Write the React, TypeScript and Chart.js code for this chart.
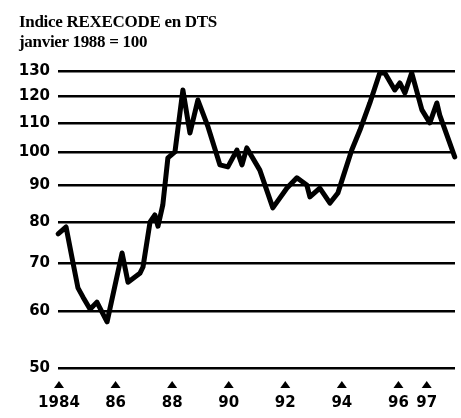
import React, { useEffect, useRef } from "react";
import { Chart, registerables } from "chart.js";

Chart.register(...registerables);

const titleLines = ["Indice REXECODE en DTS", "janvier 1988 = 100"];

const years = [
  1983.97, 1984.25, 1984.49, 1984.67, 1984.85, 1985.1, 1985.34, 1985.7, 1986.23, 1986.44,
  1986.86, 1986.97, 1987.22, 1987.39, 1987.5, 1987.67, 1987.85, 1988.1, 1988.38, 1988.63,
  1988.91, 1989.27, 1989.69, 1989.97, 1990.29, 1990.47, 1990.64, 1991.1, 1991.56, 1992.06,
  1992.41, 1992.76, 1992.87, 1993.22, 1993.58, 1993.86, 1994.04, 1994.35, 1994.64, 1994.99,
  1995.34, 1995.52, 1995.87, 1996.05, 1996.23, 1996.47, 1996.83, 1997.11, 1997.36, 1997.46,
  1997.99,
];

const values = [
  77.0, 78.7, 70.3, 64.7, 62.8, 60.4, 61.8, 58.0, 72.4, 65.9,
  67.8, 69.2, 80.0, 81.8, 78.9, 84.5, 98.3, 100.2, 122.3, 106.5,
  118.4, 108.6, 96.1, 95.5, 100.8, 96.1, 101.5, 94.5, 83.7, 89.2,
  92.2, 90.1, 86.7, 89.2, 85.0, 87.8, 92.4, 100.8, 107.5, 117.3,
  129.2, 129.2, 122.3, 125.1, 121.1, 129.2, 114.7, 110.0, 117.3, 112.8,
  98.6,
];

const yTicks = [50, 60, 70, 80, 90, 100, 110, 120, 130];
const xTicks = [1984, 1986, 1988, 1990, 1992, 1994, 1996, 1997];
const xTickLabels = ["1984", "86", "88", "90", "92", "94", "96", "97"];

const tickFont = { family: "'DejaVu Sans'", size: 15, weight: "bold" as const };

const trianglePlugin = {
  id: "tickTriangles",
  afterDraw(chart: any) {
    const xs = chart.scales.x;
    const ctx = chart.ctx;
    const base = chart.chartArea.bottom;
    ctx.save();
    ctx.fillStyle = "#000";
    for (const v of xTicks) {
      const px = xs.getPixelForValue(v);
      ctx.beginPath();
      ctx.moveTo(px, base + 13);
      ctx.lineTo(px - 5, base + 20);
      ctx.lineTo(px + 5, base + 20);
      ctx.closePath();
      ctx.fill();
    }
    ctx.restore();
  },
};

export default function App() {
  const canvasRef = useRef<HTMLCanvasElement | null>(null);

  useEffect(() => {
    if (!canvasRef.current) return;
    const chart = new Chart(canvasRef.current, {
      type: "line",
      data: {
        datasets: [
          {
            data: years.map((x, i) => ({ x, y: values[i] })),
            borderColor: "#000",
            borderWidth: 5,
            pointRadius: 0,
            tension: 0,
            borderJoinStyle: "round",
            borderCapStyle: "round",
            clip: false as any,
          },
        ],
      },
      options: {
        animation: false,
        responsive: false,
        devicePixelRatio: 1,
        layout: { padding: { top: 71, right: 6, left: 0, bottom: 0 } },
        plugins: { legend: { display: false }, tooltip: { enabled: false }, title: { display: false } },
        scales: {
          x: {
            type: "linear",
            min: 1983.965,
            max: 1998,
            grid: { display: false },
            border: { display: false },
            afterBuildTicks: (s: any) => {
              s.ticks = xTicks.map((v) => ({ value: v }));
            },
            afterFit: (s: any) => {
              s.height = 50;
            },
            ticks: {
              autoSkip: false,
              maxRotation: 0,
              padding: 18,
              color: "#000",
              font: tickFont,
              callback: (v: any) => {
                const i = xTicks.indexOf(Number(v));
                return i >= 0 ? xTickLabels[i] : "";
              },
            },
          },
          y: {
            type: "logarithmic",
            min: 50,
            max: 130,
            grid: { color: "#000", lineWidth: 2.5, drawTicks: false },
            border: { display: false },
            afterBuildTicks: (s: any) => {
              s.ticks = yTicks.map((v) => ({ value: v }));
            },
            afterFit: (s: any) => {
              s.width = 58;
            },
            ticks: {
              autoSkip: false,
              padding: 8,
              color: "#000",
              font: tickFont,
              callback: (v: any) => String(v),
            },
          },
        },
      },
      plugins: [trianglePlugin],
    });
    return () => chart.destroy();
  }, []);

  return (
    <div style={{ position: "absolute", left: 0, top: 0, width: 461, height: 418, background: "#fff" }}>
      <canvas ref={canvasRef} width={461} height={418} style={{ position: "absolute", left: 0, top: 0 }} />
      <div
        style={{
          position: "absolute",
          left: 19,
          top: 12,
          fontFamily: "'Liberation Serif', serif",
          fontWeight: "bold",
          fontSize: 17,
          lineHeight: "20px",
          color: "#000",
          letterSpacing: "-0.3px",
          whiteSpace: "nowrap",
        }}
      >
        {titleLines.map((t) => (
          <div key={t}>{t}</div>
        ))}
      </div>
    </div>
  );
}
